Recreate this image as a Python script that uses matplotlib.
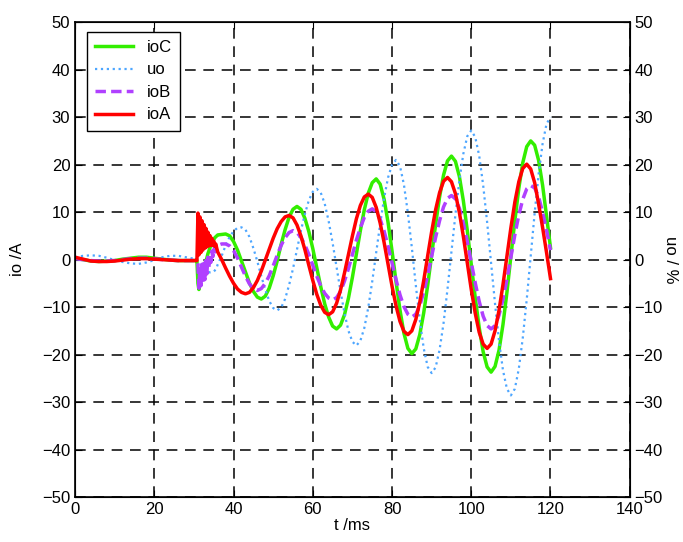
import numpy as np
import matplotlib
matplotlib.use('Agg')
import matplotlib.pyplot as plt

plt.rcParams['font.family'] = ['Liberation Sans', 'DejaVu Sans']

# time base, ms: coarse before the fault, fine over the transient, 1 ms after
t = np.concatenate([np.arange(0, 30, 2), np.arange(30, 36, 0.25), np.arange(36, 121)])

ioA_pre = [0.5, 0.1, -0.3, -0.4, -0.4, -0.3, -0.1, 0.1, 0.2, 0.2, 0.1, 0.0, -0.1, -0.2, -0.2]
ioA_fault = [-0.2, -0.2, -0.2, -0.2, 9.8, 1.0, 9.0, 1.5, 8.2, 2.0, 7.4, 2.4,
             6.6, 2.7, 5.8, 2.9, 5.1, 3.0, 4.5, 3.0, 3.9, 2.8, 3.3, 2.4]
ioA_post = [1.6, 0.0, -1.8, -3.5, -5.0, -6.2, -6.9, -7.2, -6.9, -5.9,
            -4.4, -2.4, -0.1, 2.2, 4.5, 6.5, 8.0, 9.0, 9.3, 8.8,
            7.3, 5.0, 2.1, -1.2, -4.4, -7.3, -9.6, -11.1, -11.6, -11.0,
            -9.2, -6.4, -2.8, 1.1, 5.0, 8.6, 11.4, 13.2, 13.8, 13.1,
            11.0, 7.7, 3.6, -1.0, -5.6, -9.7, -13.0, -15.1, -15.8, -15.0,
            -12.6, -9.0, -4.4, 0.8, 5.9, 10.5, 14.1, 16.5, 17.3, 16.4,
            13.9, 9.9, 4.9, -0.7, -6.3, -11.3, -15.3, -17.8, -18.7, -17.8,
            -15.0, -10.7, -5.3, 0.7, 6.7, 12.1, 16.4, 19.2, 20.1, 19.1,
            16.2, 11.7, 6.8, 1.5, -4.0]

ioC_pre = [0.3, 0.0, -0.3, -0.4, -0.3, -0.2, 0.1, 0.3, 0.5, 0.5, 0.3, 0.1, -0.1, -0.2, -0.2]
ioC_fault = [-0.2, -0.2, -0.2, -0.2, -5.0, -6.3, -5.0, -4.5, -3.2, -3.0, -1.6, -1.3,
             -0.2, 0.3, 1.2, 1.8, 2.4, 3.0, 3.4, 3.9, 4.2, 4.6, 4.8, 5.0]
ioC_post = [5.2, 5.3, 5.4, 5.0, 3.8, 2.0, -0.3, -2.6, -4.9, -6.7,
            -7.9, -8.3, -7.7, -6.0, -3.4, -0.3, 3.2, 6.3, 8.9, 10.6,
            11.2, 10.6, 8.7, 5.9, 2.3, -1.7, -5.7, -9.3, -12.1, -14.0,
            -14.6, -13.8, -11.6, -8.1, -3.7, 1.2, 6.1, 10.5, 14.0, 16.2,
            17.0, 15.9, 12.7, 7.8, 1.8, -4.6, -10.6, -15.5, -18.7, -19.8,
            -18.8, -15.8, -11.2, -5.4, 1.0, 7.4, 13.2, 17.8, 20.8, 21.8,
            20.7, 17.5, 12.4, 6.1, -1.0, -8.0, -14.3, -19.4, -22.6, -23.7,
            -22.5, -19.1, -13.7, -6.9, 0.7, 8.2, 15.0, 20.4, 23.8, 25.0,
            24.1, 20.9, 15.7, 9.2, 2.5]

ioB_pre = [0.2, 0.0, -0.2, -0.3, -0.3, -0.2, 0.0, 0.2, 0.3, 0.3, 0.2, 0.0, -0.1, -0.2, -0.2]
ioB_fault = [-0.2, -0.2, -0.2, -0.2, -1.0, -6.0, -1.5, -5.5, -1.0, -5.0, -0.8, -4.2,
             -0.2, -3.0, 0.5, -1.8, 1.2, -0.6, 1.8, 0.6, 2.3, 1.6, 2.8, 2.6]
ioB_post = [3.0, 3.3, 3.3, 2.9, 1.9, 0.3, -1.6, -3.5, -5.1, -6.1,
            -6.5, -6.1, -5.0, -3.4, -1.3, 0.9, 3.0, 4.6, 5.7, 6.1,
            5.7, 4.7, 3.1, 1.1, -1.2, -3.5, -5.5, -7.1, -8.1, -8.5,
            -8.0, -6.7, -4.5, -1.9, 1.1, 4.1, 6.7, 8.9, 10.2, 10.7,
            10.1, 8.5, 6.0, 2.8, -0.7, -4.2, -7.4, -9.9, -11.5, -12.1,
            -11.5, -9.7, -6.8, -3.3, 0.7, 4.7, 8.2, 11.1, 12.9, 13.5,
            12.8, 10.8, 7.7, 3.8, -0.6, -4.9, -8.8, -11.9, -13.9, -14.6,
            -13.9, -11.7, -8.4, -4.2, 0.5, 5.2, 9.4, 12.7, 14.9, 15.6,
            15.1, 13.2, 10.0, 6.2, 2.0]

uo_pre = [0.5, 0.8, 0.9, 0.8, 0.4, -0.1, -0.5, -0.8, -0.9, -0.6, -0.1, 0.5, 0.8, 0.8, 0.5]
uo_fault = [0.2, 0.1, 0.0, -0.1, -0.3, -0.6, -0.9, -1.2, -1.5, -1.7, -1.9, -2.1,
            -2.3, -2.4, -2.5, -2.6, -2.7, -2.7, -2.7, -2.6, -2.5, -2.3, -2.0, -1.6]
uo_post = [-1.0, 0.8, 3.0, 4.8, 6.0, 6.7, 6.8, 6.3, 4.8, 2.4,
           -0.4, -3.5, -6.3, -8.7, -10.2, -10.7, -10.1, -8.3, -5.4, -1.9,
           2.1, 6.1, 9.6, 12.5, 14.3, 14.9, 14.1, 11.8, 8.1, 3.5,
           -1.6, -6.7, -11.3, -15.0, -17.3, -18.1, -17.1, -14.4, -10.1, -4.6,
           1.5, 7.5, 13.0, 17.3, 20.0, 21.0, 19.7, 15.8, 9.8, 2.5,
           -5.4, -12.7, -18.7, -22.6, -23.9, -22.7, -19.0, -13.4, -6.2, 1.7,
           9.5, 16.7, 22.3, 26.0, 27.2, 25.8, 21.9, 15.7, 7.9, -0.7,
           -9.3, -17.1, -23.3, -27.2, -28.6, -27.2, -23.0, -16.5, -8.4, 0.7,
           9.8, 18.0, 24.4, 28.6, 30.0]

ioA = ioA_pre + ioA_fault + ioA_post
ioB = ioB_pre + ioB_fault + ioB_post
ioC = ioC_pre + ioC_fault + ioC_post
uo = uo_pre + uo_fault + uo_post

fig = plt.figure(figsize=(6.83, 5.42), dpi=100)
ax = fig.add_axes([0.110, 0.083, 0.812, 0.876])

ax.plot(t, ioC, color='#33ee00', lw=2.5, label='ioC')
ax.plot(t, uo, color='#4da6ff', lw=1.6, ls=':', label='uo')
ax.plot(t, ioB, color='#b040ff', lw=2.5, ls='--', dashes=(3, 1.5), label='ioB')
ax.plot(t, ioA, color='#ff0000', lw=2.5, label='ioA')

ax.set_xlim(0, 140)
ax.set_ylim(-50, 50)
ax.set_xticks(range(0, 141, 20))
ax.set_yticks(range(-50, 51, 10))
ax.grid(True, color='black', ls=(0, (7, 5)), lw=1.1)
ax.tick_params(direction='in', labelsize=12, length=5, top=True)
for s in ax.spines.values():
    s.set_linewidth(1.2)

ax.set_xlabel('t /ms', fontsize=12, labelpad=1)
ax.set_ylabel('io /A', fontsize=12, labelpad=12)

ax2 = ax.twinx()
ax2.set_ylim(-50, 50)
ax2.set_yticks(range(-50, 51, 10))
ax2.tick_params(direction='in', labelsize=12, length=5)
ax2.set_ylabel('uo / %', fontsize=12, rotation=-90, labelpad=11)

leg = ax.legend(loc='upper left', fontsize=12, fancybox=False, framealpha=1,
                edgecolor='black', handlelength=2.3, handletextpad=0.8,
                borderpad=0.5, labelspacing=0.45, bbox_to_anchor=(0.006, 0.998))
leg.get_frame().set_linewidth(1.0)

fig.savefig('out.png', dpi=100)
